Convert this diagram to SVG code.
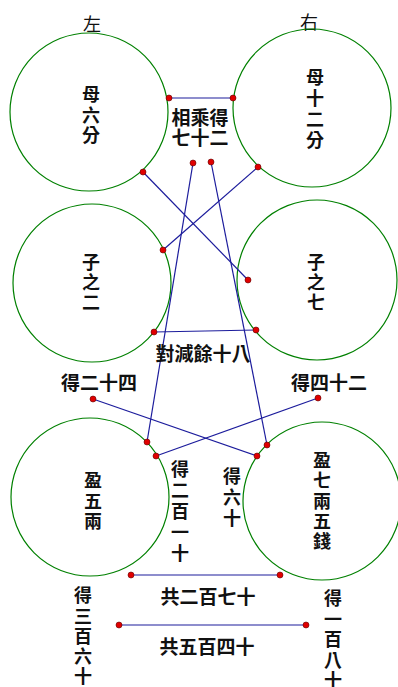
<svg xmlns="http://www.w3.org/2000/svg" width="398" height="687" viewBox="0 0 398 687">
<style>
.c{fill:none;stroke:#008000;stroke-width:1.2}
.l{stroke:#1c1c9c;stroke-width:1.2;fill:none}
.d{fill:#e00000;stroke:#600000;stroke-width:0.6}
text{font-family:"Noto Sans CJK TC","Noto Sans CJK SC",sans-serif;font-size:19px;font-weight:700;fill:#111;text-anchor:middle}
.r{font-weight:400;font-size:18px}
.v{writing-mode:vertical-rl;text-anchor:start;font-size:18px}
</style>
<rect width="398" height="687" fill="#fff"/>
<g id="labels-top">
<text class="r" x="92" y="31">左</text>
<text class="r" x="309" y="29">右</text>
</g>
<g id="n1"><circle class="c" cx="89" cy="112" r="79"/>
<text class="v" x="91" y="85.5" letter-spacing="2.5">母六分</text></g>
<g id="n2"><circle class="c" cx="312" cy="108" r="79"/>
<text class="v" x="315" y="68.5" letter-spacing="3">母十二分</text></g>
<g id="n3"><circle class="c" cx="92" cy="283" r="79"/>
<text class="v" x="91" y="253.5" letter-spacing="2">子之二</text></g>
<g id="n4"><circle class="c" cx="317" cy="280" r="80"/>
<text class="v" x="316" y="253.5" letter-spacing="2">子之七</text></g>
<g id="n5"><circle class="c" cx="90" cy="497" r="79"/>
<text class="v" x="93" y="471" letter-spacing="2.7">盈五兩</text></g>
<g id="n6"><circle class="c" cx="322" cy="501" r="79"/>
<text class="v" x="322" y="451" letter-spacing="2.4">盈七兩五錢</text></g>
<g id="connectors">
<line class="l" x1="169" y1="98" x2="233" y2="98"/>
<line class="l" x1="143" y1="172" x2="248" y2="280"/>
<line class="l" x1="258" y1="167" x2="163" y2="250"/>
<line class="l" x1="193" y1="163" x2="147" y2="442"/>
<line class="l" x1="211" y1="162" x2="267" y2="445"/>
<line class="l" x1="154" y1="332" x2="256" y2="330"/>
<line class="l" x1="93" y1="399" x2="257" y2="456"/>
<line class="l" x1="318" y1="398" x2="156" y2="456"/>
<line class="l" x1="131" y1="575" x2="280" y2="575"/>
<line class="l" x1="119" y1="625" x2="306" y2="625"/>
</g>
<g id="dots">
<circle class="d" cx="169" cy="98" r="3"/><circle class="d" cx="233" cy="98" r="3"/>
<circle class="d" cx="143" cy="172" r="3"/><circle class="d" cx="248" cy="280" r="3"/>
<circle class="d" cx="258" cy="167" r="3"/><circle class="d" cx="163" cy="250" r="3"/>
<circle class="d" cx="193" cy="163" r="3"/><circle class="d" cx="147" cy="442" r="3"/>
<circle class="d" cx="211" cy="162" r="3"/><circle class="d" cx="267" cy="445" r="3"/>
<circle class="d" cx="154" cy="332" r="3"/><circle class="d" cx="256" cy="330" r="3"/>
<circle class="d" cx="93" cy="399" r="3"/><circle class="d" cx="257" cy="456" r="3"/>
<circle class="d" cx="318" cy="398" r="3"/><circle class="d" cx="156" cy="456" r="3"/>
<circle class="d" cx="131" cy="575" r="3"/><circle class="d" cx="280" cy="575" r="3"/>
<circle class="d" cx="119" cy="625" r="3"/><circle class="d" cx="306" cy="625" r="3"/>
</g>
<g id="labels">
<text x="200"><tspan x="200" y="125">相乘得</tspan><tspan x="200" y="145">七十二</tspan></text>
<text x="203" y="361">對減餘十八</text>
<text x="99" y="390">得二十四</text>
<text x="329" y="390">得四十二</text>
<text class="v" x="180" y="460" letter-spacing="3">得二百一十</text>
<text class="v" x="232" y="467" letter-spacing="3">得六十</text>
<text x="208" y="604">共二百七十</text>
<text x="207" y="654">共五百四十</text>
<text class="v" x="83" y="586.5" letter-spacing="2.2">得三百六十</text>
<text class="v" x="333" y="589.5" letter-spacing="2.4">得一百八十</text>
</g>
</svg>
